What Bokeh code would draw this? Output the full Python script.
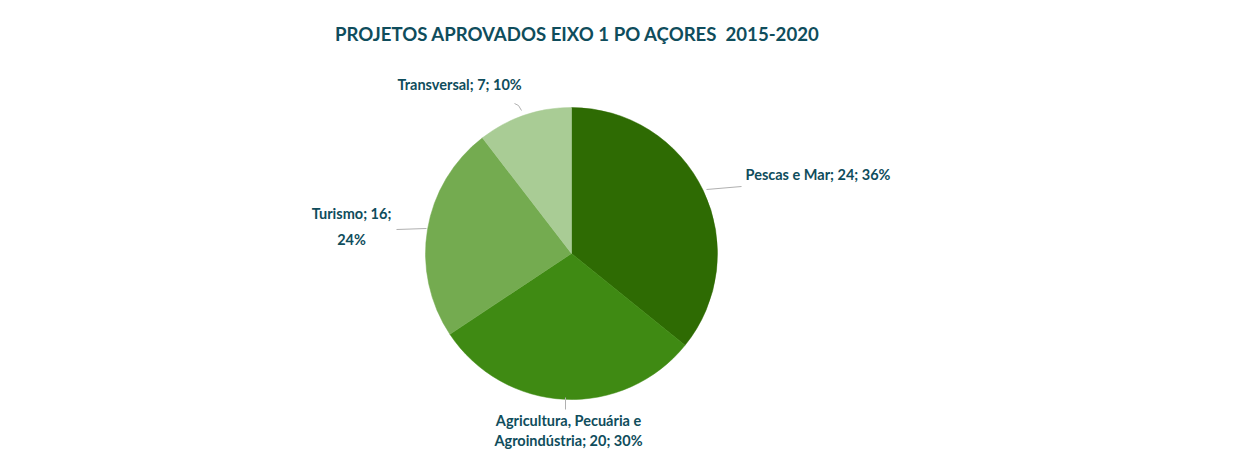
import math
from bokeh.plotting import figure
from bokeh.models import Range1d, Label, ColumnDataSource
from bokeh.embed import file_html
from bokeh.resources import INLINE

# ---- data ----
categories = ["Pescas e Mar", "Agricultura, Pecuária e Agroindústria", "Turismo", "Transversal"]
values = [24, 20, 16, 7]
percents = [36, 30, 24, 10]
colors = ["#2e6b03", "#3f8a13", "#74ab50", "#a9cc95"]
title_text = "PROJETOS APROVADOS EIXO 1 PO AÇORES \u00a02015-2020"

W, H = 1260, 450
TEXT_COLOR = "#0f4d5c"
FONT = "Lato"

p = figure(width=W, height=H, output_backend="svg", toolbar_location=None,
           x_range=Range1d(0, W), y_range=Range1d(0, H), min_border=0)
p.axis.visible = False
p.grid.visible = False
p.outline_line_color = None
p.background_fill_color = "white"
p.border_fill_color = "white"

def Y(y):  # image y -> data y
    return H - y

cx, cy, r = 571, Y(253), 146
total = sum(values)
starts, ends = [], []
cum = 0
for v in values:
    starts.append(math.pi / 2 - 2 * math.pi * cum / total)
    cum += v
    ends.append(math.pi / 2 - 2 * math.pi * cum / total)

src = ColumnDataSource(dict(start=starts, end=ends, color=colors))
p.wedge(x=cx, y=cy, radius=r, start_angle="start", end_angle="end",
        direction="clock", fill_color="color", line_color="color", line_width=0.5, source=src)

# leader lines
lc = "#b0b0b0"
p.line([706, 741], [Y(189), Y(186)], line_color=lc, line_width=1)
p.line([396, 426], [Y(229), Y(228)], line_color=lc, line_width=1)
p.line([565, 565], [Y(397), Y(409)], line_color=lc, line_width=1)
p.line([514, 518, 521], [Y(103), Y(105), Y(110)], line_color=lc, line_width=1)

def add_label(x, y, text, align="left", size="14.5px"):
    p.add_layout(Label(x=x, y=Y(y), text=text, text_font=FONT, text_font_style="bold",
                       text_font_size=size, text_color=TEXT_COLOR, text_align=align,
                       text_baseline="middle"))

lab = [f"{c}; {v}; {pc}%" for c, v, pc in zip(categories, values, percents)]

add_label(577, 33, title_text, align="center", size="18.6px")
add_label(745, 174, lab[0])
parts = lab[1].split(" ")
add_label(568, 420, " ".join(parts[:3]), align="center")
add_label(568, 440, " ".join(parts[3:]), align="center")
tparts = lab[2].rsplit(" ", 1)
add_label(351, 213, tparts[0], align="center")
add_label(351, 239, tparts[1], align="center")
add_label(397, 84, lab[3])

open("out.html", "w").write(file_html(p, INLINE))
